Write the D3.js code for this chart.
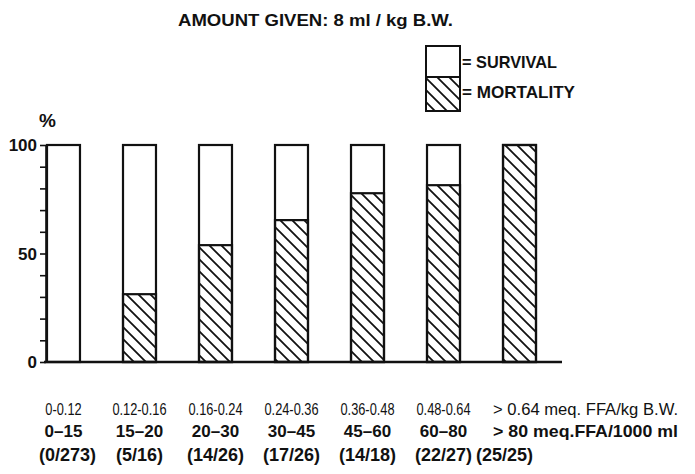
<!DOCTYPE html>
<html lang="en">
<head>
<meta charset="UTF-8">
<title>FFA mortality</title>
<script src="https://cdn.jsdelivr.net/npm/d3@7"></script>
<style>
  body { margin: 0; background: #fff; }
  text { font-family: "Liberation Sans", Arial, sans-serif; fill: #111; }
</style>
</head>
<body>
<script>
var width = 695, height = 474;

// data
var groups = ["g1", "g2", "g3", "g4", "g5", "g6", "g7"];
var deaths = [0, 5, 14, 17, 14, 22, 25];
var totals = [273, 16, 26, 26, 18, 27, 25];
var kgLabels = ["0-0.12", "0.12-0.16", "0.16-0.24", "0.24-0.36", "0.36-0.48", "0.48-0.64", "> 0.64 meq. FFA/kg B.W."];
var mlLabels = ["0\u201315", "15\u201320", "20\u201330", "30\u201345", "45\u201360", "60\u201380", "> 80 meq.FFA/1000 ml"];
var yTicks = [0, 50, 100];

var mortality = deaths.map(function(d, i) { return d / totals[i] * 100; });

var svg = d3.select("body").append("svg").attr("width", width).attr("height", height);

// hatch pattern "\\\"
var defs = svg.append("defs");
var pat = defs.append("pattern")
    .attr("id", "hatch")
    .attr("patternUnits", "userSpaceOnUse")
    .attr("width", 12).attr("height", 12);
pat.append("path")
    .attr("d", "M0,0 L12,12 M-3,9 L3,15 M9,-3 L15,3")
    .attr("stroke", "#111").attr("stroke-width", 1.8);

var x = d3.scaleBand().domain(groups).range([47, 536]).paddingInner(0.566).paddingOuter(0);
var y = d3.scaleLinear().domain([0, 100]).range([362, 145]);

// title
svg.append("text")
    .attr("x", 178).attr("y", 26)
    .attr("font-size", 17).attr("font-weight", "bold")
    .attr("textLength", 275).attr("lengthAdjust", "spacingAndGlyphs")
    .text("AMOUNT GIVEN: 8 ml / kg B.W.");

// legend
var lg = svg.append("g");
lg.append("rect").attr("x", 426).attr("y", 46).attr("width", 34).attr("height", 31)
    .attr("fill", "#fff").attr("stroke", "#111").attr("stroke-width", 2);
lg.append("rect").attr("x", 426).attr("y", 77).attr("width", 34).attr("height", 34)
    .attr("fill", "url(#hatch)").attr("stroke", "#111").attr("stroke-width", 2);
lg.append("text").attr("x", 462).attr("y", 68).attr("font-size", 17).attr("font-weight", "bold")
    .attr("textLength", 95).attr("lengthAdjust", "spacingAndGlyphs").text("= SURVIVAL");
lg.append("text").attr("x", 462).attr("y", 98).attr("font-size", 17).attr("font-weight", "bold")
    .attr("textLength", 113).attr("lengthAdjust", "spacingAndGlyphs").text("= MORTALITY");

// y axis
svg.append("text").attr("x", 39).attr("y", 127).attr("font-size", 19).attr("font-weight", "bold").text("%");
var yAxis = d3.axisLeft(y).tickValues(d3.range(0, 101, 10)).tickSize(6).tickFormat("");
var ga = svg.append("g").attr("transform", "translate(46,0)").call(yAxis);
ga.selectAll("path, line").attr("stroke", "#111").attr("stroke-width", 1.6);
ga.select(".domain").attr("d", "M0," + y(0) + "V" + y(100));
svg.selectAll(".ylab").data(yTicks).enter().append("text")
    .attr("class", "ylab")
    .attr("x", 37).attr("y", function(d) { return y(d); }).attr("dy", "0.36em")
    .attr("text-anchor", "end").attr("font-size", 17).attr("font-weight", "bold")
    .text(function(d) { return d; });

// bars
var bars = svg.selectAll(".bar").data(groups).enter().append("g").attr("class", "bar");
bars.append("rect")
    .attr("x", function(d) { return x(d); })
    .attr("y", y(100))
    .attr("width", x.bandwidth())
    .attr("height", y(0) - y(100))
    .attr("fill", "#fff").attr("stroke", "#111").attr("stroke-width", 2.2);
bars.filter(function(d, i) { return mortality[i] > 0; }).append("rect")
    .attr("x", function(d) { return x(d); })
    .attr("y", function(d) { return y(mortality[groups.indexOf(d)]); })
    .attr("width", x.bandwidth())
    .attr("height", function(d) { return y(0) - y(mortality[groups.indexOf(d)]); })
    .attr("fill", "url(#hatch)").attr("stroke", "#111").attr("stroke-width", 2.2);

// baseline
svg.append("line").attr("x1", 44).attr("x2", 562).attr("y1", y(0)).attr("y2", y(0))
    .attr("stroke", "#111").attr("stroke-width", 2.4);

// bottom labels
var last = groups.length - 1;
function cx(i) { return x(groups[i]) + x.bandwidth() / 2; }
svg.selectAll(".kg").data(kgLabels).enter().append("text")
    .attr("class", "kg")
    .attr("x", function(d, i) { return i === last ? x(groups[i]) - 10 : cx(i); })
    .attr("y", 415)
    .attr("text-anchor", function(d, i) { return i === last ? "start" : "middle"; })
    .attr("font-size", 16)
    .text(function(d) { return d; })
    .each(function(d, i) {
        var w = i === last ? 185 : this.getComputedTextLength() * 0.8;
        d3.select(this).attr("textLength", w).attr("lengthAdjust", "spacingAndGlyphs");
    });
svg.selectAll(".ml").data(mlLabels).enter().append("text")
    .attr("class", "ml")
    .attr("x", function(d, i) { return i === last ? x(groups[i]) - 10 : cx(i); })
    .attr("y", 437)
    .attr("text-anchor", function(d, i) { return i === last ? "start" : "middle"; })
    .attr("font-size", 17).attr("font-weight", "bold")
    .attr("textLength", function(d, i) { return i === last ? 185 : null; })
    .attr("lengthAdjust", "spacingAndGlyphs")
    .text(function(d) { return d; });
svg.selectAll(".cnt").data(deaths).enter().append("text")
    .attr("class", "cnt")
    .attr("x", function(d, i) { return i === last ? x(groups[i]) - 27 : cx(i) + (i === 0 ? 4 : 0); })
    .attr("y", 461)
    .attr("text-anchor", function(d, i) { return i === last ? "start" : "middle"; })
    .attr("font-size", 18).attr("font-weight", "bold")
    .text(function(d, i) { return "(" + d + "/" + totals[i] + ")"; });
</script>
</body>
</html>
